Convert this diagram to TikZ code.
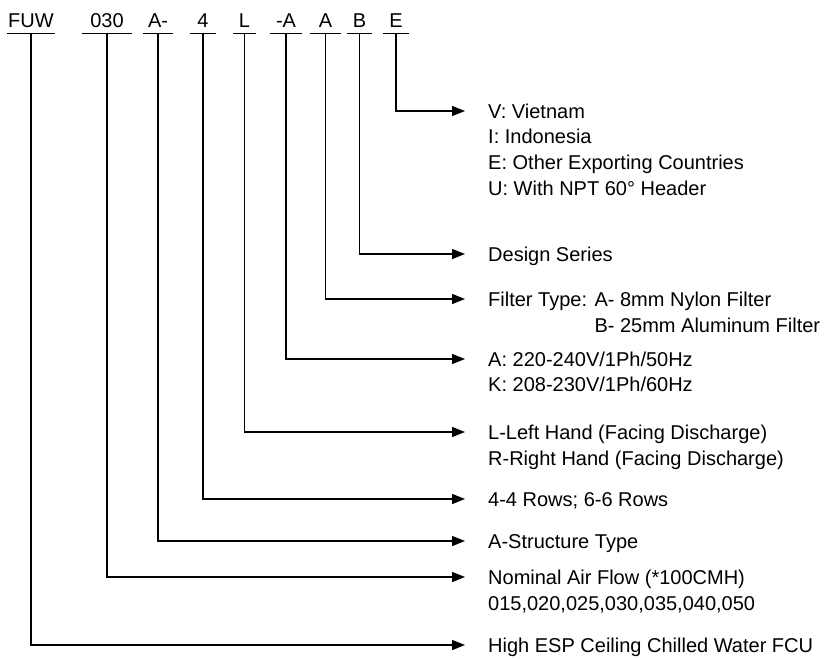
\documentclass[tikz,border=0pt]{standalone}
\usepackage{fontspec}
\setmainfont{Liberation Sans}
\usetikzlibrary{arrows.meta}

\tikzset{
  code/.style={font=\fontsize{20}{24}\selectfont, inner xsep=0pt, inner ysep=6pt,
    text depth=0pt, anchor=base},
  desc/.style={font=\fontsize{20}{24}\selectfont, inner sep=0pt, text height=14pt,
    text depth=0pt, anchor=west},
  conn/.style={line width=1.4pt, -{Triangle[length=13pt,width=10pt]}},
}

\begin{document}
\begin{tikzpicture}[x=1pt, y=-1pt, line cap=butt, line join=miter]
  \useasboundingbox (0,0) rectangle (829,659);
  % the code letters along the top
  \node[code, minimum width=47pt] (hFUW) at (31,27)  {FUW};
  \node[code, minimum width=50pt] (h030) at (107,27) {030};
  \node[code, minimum width=29pt] (hS)   at (158,27) {A-};
  \node[code, minimum width=25pt] (hR)   at (203,27) {4};
  \node[code, minimum width=22pt] (hL)   at (244.5,27) {L};
  \node[code, minimum width=32pt] (hV)   at (286,27) {-A};
  \node[code, minimum width=30pt] (hF)   at (325.5,27) {A};
  \node[code, minimum width=24pt] (hB)   at (359.5,27) {B};
  \node[code, minimum width=25pt] (hE)   at (396,27) {E};
  \foreach \h in {hFUW, h030, hS, hR, hL, hV, hF, hB, hE} {
    \draw[line width=1.4pt] (\h.south west) -- (\h.south east);
  }
  % the meanings, top to bottom
  \node[desc] (dE) at (488,111) {V: Vietnam};
  \node[desc] (dE2) at ([yshift=-25.7pt]dE.west) {I: Indonesia};
  \node[desc] (dE3) at ([yshift=-25.7pt]dE2.west) {E: Other Exporting Countries};
  \node[desc] (dE4) at ([yshift=-25.7pt]dE3.west) {U: With NPT 60° Header};
  \node[desc] (dB) at (488,254) {Design Series};
  \node[desc] (dF) at (488,299) {Filter Type: A- 8mm Nylon Filter};
  \node[desc] (dF2) at ([yshift=-26pt]dF.west) {\phantom{Filter Type: }B- 25mm Aluminum Filter};
  \node[desc] (dV) at (488,359) {A: 220-240V/1Ph/50Hz};
  \node[desc] (dV2) at ([yshift=-25pt]dV.west) {K: 208-230V/1Ph/60Hz};
  \node[desc] (dL) at (488,432) {L-Left Hand (Facing Discharge)};
  \node[desc] (dL2) at ([yshift=-26pt]dL.west) {R-Right Hand (Facing Discharge)};
  \node[desc] (dR) at (488,499) {4-4 Rows; 6-6 Rows};
  \node[desc] (dS) at (488,541) {A-Structure Type};
  \node[desc] (d030) at (488,577) {Nominal Air Flow (*100CMH)};
  \node[desc] (d0302) at ([yshift=-26pt]d030.west) {015,020,025,030,035,040,050};
  \node[desc] (dFUW) at (488,645) {High ESP Ceiling Chilled Water FCU};
  % the leaders
  \foreach \h/\d in {hE/dE, hB/dB, hF/dF, hV/dV, hL/dL, hR/dR, hS/dS, h030/d030, hFUW/dFUW} {
    \draw[conn] (\h.south) |- ([xshift=-23pt]\d.west);
  }
\end{tikzpicture}
\end{document}
